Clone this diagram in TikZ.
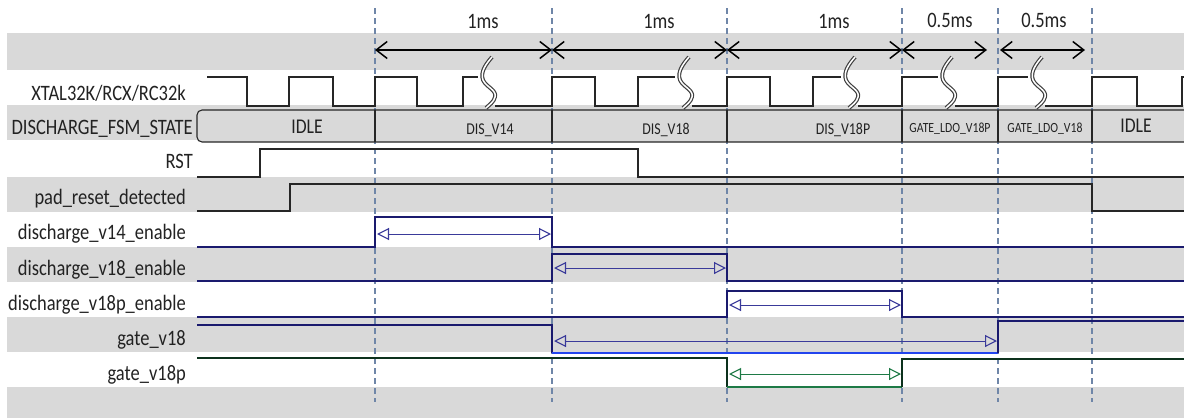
\documentclass[tikz,border=0pt]{standalone}
\usepackage{fontspec}
\setmainfont{Carlito}[FakeStretch=0.84]
\usetikzlibrary{arrows.meta}
\definecolor{band}{HTML}{D9D9D9}
\definecolor{guidec}{HTML}{6F86A8}
\definecolor{navy}{HTML}{1A1A6E}
\definecolor{bblue}{HTML}{2244EE}
\definecolor{dgreen}{HTML}{1E7A46}
\definecolor{ablue}{HTML}{3A3A9A}
\definecolor{txt}{HTML}{222222}
\tikzset{
  lbl/.style={anchor=base east, inner sep=0pt, text=txt, font=\fontsize{22}{26}\selectfont},
  buslbl/.style={anchor=base, inner sep=0pt, text=txt, font=\fontsize{21}{24}\selectfont},
  busmid/.style={anchor=base, inner sep=0pt, text=txt, font=\fontsize{16.5}{19}\selectfont},
  bussmall/.style={anchor=base, inner sep=0pt, text=txt, font=\fontsize{14}{16}\selectfont},
  durlbl/.style={anchor=base, inner sep=0pt, text=txt, font=\fontsize{22}{26}\selectfont},
  guide/.style={guidec, line width=1.3pt, dash pattern=on 6pt off 4pt},
  clk/.style={black!85, line width=1.1pt},
  sig/.style={black!85, line width=1.1pt},
  nsig/.style={navy, line width=2.2pt},
  bsig/.style={bblue, line width=2.2pt},
  dsig/.style={black!60!dgreen, line width=2.2pt},
  gsig/.style={dgreen, line width=2.2pt},
  durarrow/.style={black, line width=1.5pt, {Straight Barb[length=11pt,width=17pt,line width=1.5pt]}-{Straight Barb[length=11pt,width=17pt,line width=1.5pt]}},
  intarrow/.style={line width=0.9pt, {Triangle[open,length=12pt,width=12pt,line width=1.1pt]}-{Triangle[open,length=12pt,width=12pt,line width=1.1pt]}},
  brk/.style={draw=black!75, double=white, double distance=1.5pt, line width=1.2pt},
}
\newcommand\wavebreak[1]{%
  \draw[brk] (#1,57) .. controls (#1-6,64) and (#1-12,72) .. (#1-9,80)
    .. controls (#1-6,87) and (#1+5,90) .. (#1+3,97)
    .. controls (#1+2,102) and (#1-3,105) .. (#1-6,108);}
\begin{document}
\begin{tikzpicture}[x=1pt,y=-1pt]
\useasboundingbox (0,0) rectangle (1184,418);
% bands
\foreach \a/\b in {33/70,105/140,177/212,247/282,317/352,387/418}
  \fill[band] (7,\a) rectangle (1184,\b);
% guides
\foreach \gx in {375,552,727,902,998,1092}
  \draw[guide] (\gx,8) -- (\gx,402);
% labels
\node[lbl] (lxtal) at (186,100) {XTAL32K/RCX/RC32k};
\node[lbl] (lfsm) at (193,134) {DISCHARGE\_FSM\_STATE};
\node[lbl] (lrst) at (193,168) {RST};
\node[lbl] (lpad) at (186,204) {pad\_reset\_detected};
\node[lbl] (lv14) at (186,239) {discharge\_v14\_enable};
\node[lbl] (lv18) at (186,275) {discharge\_v18\_enable};
\node[lbl] (lv18p) at (186,310) {discharge\_v18p\_enable};
\node[lbl] (lg18) at (186,345) {gate\_v18};
\node[lbl] (lg18p) at (186,380) {gate\_v18p};
% durations
\node[durlbl] (d1) at (483,28) {1ms};
\node[durlbl] (d2) at (659,28) {1ms};
\node[durlbl] (d3) at (834,28) {1ms};
\node[durlbl] (d4) at (950,27) {0.5ms};
\node[durlbl] (d5) at (1044,27) {0.5ms};
\coordinate (a0) at (375,50);
\coordinate (a1) at (552,50);
\coordinate (a2) at (727,50);
\coordinate (a3) at (902,50);
\coordinate (a4) at (987,50);
\coordinate (a5) at (1000,50);
\coordinate (a6) at (1085,50);
\draw[durarrow] (a0) -- (a1);
\draw[durarrow] (a1) -- (a2);
\draw[durarrow] (a2) -- (a3);
\draw[durarrow] (a3) -- (a4);
\draw[durarrow] (a5) -- (a6);
% clock
\draw[clk] (207,77) -| (247,106) -| (289,77) -| (333,106) -| (375,77) -| (417,106) -| (463,77) -- (478,77);
\draw[clk] (495,106) -- (552,106) |- (595,77) |- (638,106) |- (675,77);
\draw[clk] (692,106) -- (727,106) |- (770,77) |- (813,106) |- (841,77);
\draw[clk] (858,106) -- (902,106) |- (938,77);
\draw[clk] (955,106) -- (998,106) |- (1028,77);
\draw[clk] (1045,106) -- (1092,106) |- (1137,77) |- (1182,106) |- (1184,77);
\wavebreak{492}
\wavebreak{689}
\wavebreak{855}
\wavebreak{952}
\wavebreak{1042}
% FSM bus
\draw[black!85, line width=1.1pt, fill=band, rounded corners=5pt] (1190,110) -- (197,110) -- (197,142) -- (1190,142);
\foreach \gx in {375,552,727,902,998,1092}
  \draw[black!85, line width=1.1pt] (\gx,110) -- (\gx,142);
\node[buslbl] (s0) at (307,133) {IDLE};
\node[busmid] (s1) at (490,134) {DIS\_V14};
\node[busmid] (s2) at (666,134) {DIS\_V18};
\node[busmid] (s3) at (843,134) {DIS\_V18P};
\node[bussmall] (s4) at (950,132) {GATE\_LDO\_V18P};
\node[bussmall] (s5) at (1045,132) {GATE\_LDO\_V18};
\node[buslbl] (s6) at (1136,132) {IDLE};
% signals
\draw[sig] (197,177) -| (260,149) -| (638,177) -- (1184,177);
\draw[sig] (197,211) -| (290,184) -| (1092,211) -- (1184,211);
\draw[nsig] (197,247) -| (375,217) -| (552,247) -- (1184,247);
\draw[nsig] (197,281) -| (552,254) -| (727,281) -- (1184,281);
\draw[nsig] (197,317) -| (727,291) -| (902,317) -- (1184,317);
\draw[nsig] (197,325) -| (552,353);
\draw[bsig] (552,353) -- (998,353);
\draw[nsig] (998,353) |- (1184,321);
\draw[dsig] (197,358) -| (727,387);
\draw[gsig] (727,387) -- (902,387);
\draw[dsig] (902,387) |- (1184,359);
% interval arrows
\coordinate (i1a) at (377,234); \coordinate (i1b) at (551,234);
\coordinate (i2a) at (554,268); \coordinate (i2b) at (726,268);
\coordinate (i3a) at (729,305); \coordinate (i3b) at (901,305);
\coordinate (i4a) at (554,341); \coordinate (i4b) at (997,341);
\coordinate (i5a) at (729,374); \coordinate (i5b) at (901,374);
\draw[intarrow, ablue] (i1a) -- (i1b);
\draw[intarrow, ablue] (i2a) -- (i2b);
\draw[intarrow, ablue] (i3a) -- (i3b);
\draw[intarrow, ablue] (i4a) -- (i4b);
\draw[intarrow, dgreen] (i5a) -- (i5b);
\end{tikzpicture}
\end{document}
